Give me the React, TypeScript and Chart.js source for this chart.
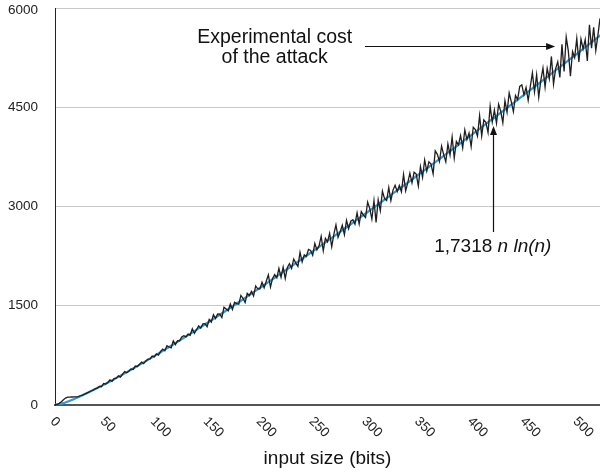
import React, { useEffect, useRef } from "react";
import { Chart, registerables } from "chart.js";

Chart.register(...registerables);

// ---- data ----
const xTickValues = [0, 50, 100, 150, 200, 250, 300, 350, 400, 450, 500];
const yTickValues = [0, 1500, 3000, 4500, 6000];
const X_MAX = 516;
const Y_MAX = 6000;

// experimental cost of the attack (black, noisy), input size in bits
const expN = [
  0, 2, 4, 6, 8, 10, 12, 14, 16, 18, 20, 22, 24, 26, 28, 30, 32, 34, 36, 38,
  40, 42, 44, 46, 48, 50, 52, 54, 56, 58, 60, 62, 64, 66, 68, 70, 72, 74, 76, 78,
  80, 82, 84, 86, 88, 90, 92, 94, 96, 98, 100, 102, 104, 106, 108, 110, 112, 114, 116, 118,
  120, 122, 124, 126, 128, 130, 132, 134, 136, 138, 140, 142, 144, 146, 148, 150, 152, 154, 156, 158,
  160, 162, 164, 166, 168, 170, 172, 174, 176, 178, 180, 182, 184, 186, 188, 190, 192, 194, 196, 198,
  200, 202, 204, 206, 208, 210, 212, 214, 216, 218, 220, 222, 224, 226, 228, 230, 232, 234, 236, 238,
  240, 242, 244, 246, 248, 250, 252, 254, 256, 258, 260, 262, 264, 266, 268, 270, 272, 274, 276, 278,
  280, 282, 284, 286, 288, 290, 292, 294, 296, 298, 300, 302, 304, 306, 308, 310, 312, 314, 316, 318,
  320, 322, 324, 326, 328, 330, 332, 334, 336, 338, 340, 342, 344, 346, 348, 350, 352, 354, 356, 358,
  360, 362, 364, 366, 368, 370, 372, 374, 376, 378, 380, 382, 384, 386, 388, 390, 392, 394, 396, 398,
  400, 402, 404, 406, 408, 410, 412, 414, 416, 418, 420, 422, 424, 426, 428, 430, 432, 434, 436, 438,
  440, 442, 444, 446, 448, 450, 452, 454, 456, 458, 460, 462, 464, 466, 468, 470, 472, 474, 476, 478,
  480, 482, 484, 486, 488, 490, 492, 494, 496, 498, 500, 502, 504, 506, 508, 510, 512, 514, 516,
];
const expCost = [
  0, 8, 25, 50, 80, 105, 118, 120, 121, 122, 124, 126, 140, 150, 165, 180, 195, 212, 226, 245,
  255,
  280, 276, 325, 317, 341, 378, 356, 400, 405, 440, 421, 466, 504, 487, 515, 546, 537, 588, 581, 615,
  648, 625, 666, 692, 696, 740, 727, 774, 753, 809, 845, 820, 895, 876, 863, 970, 913, 971, 969, 1028,
  1048, 1030, 1072, 1054, 1151, 1083, 1137, 1196, 1161, 1226, 1230, 1184, 1293, 1253, 1366, 1306, 1375, 1372, 1321, 1478,
  1451, 1424, 1526, 1443, 1552, 1533, 1523, 1656, 1613, 1547, 1688, 1654, 1715, 1649, 1799, 1756, 1754, 1856, 1773, 1871,
  1965, 1783, 1913, 1971, 1921, 2063, 1929, 2083, 1913, 2079, 2137, 2063, 2206, 2144, 2094, 2308, 2163, 2269, 2244, 2350,
  2336, 2263, 2441, 2344, 2406, 2548, 2331, 2518, 2466, 2594, 2392, 2579, 2722, 2535, 2618, 2716, 2574, 2791, 2664, 2777,
  2800, 2733, 2906, 2734, 2923, 2871, 2834, 3067, 2970, 2810, 3089, 2760, 3101, 2937, 3233, 3120, 3092, 3286, 3088, 3248,
  3322, 3227, 3318, 3223, 3484, 3236, 3361, 3504, 3358, 3517, 3490, 3310, 3605, 3442, 3703, 3536, 3674, 3641, 3494, 3841,
  3789, 3680, 3912, 3784, 3675, 3946, 3780, 4051, 3733, 3985, 3933, 4071, 3886, 4158, 4011, 4111, 3907, 4197, 4164, 4063,
  4373, 4067, 4311, 4270, 4118, 4516, 4276, 4455, 4259, 4547, 4440, 4266, 4599, 4425, 4714, 4584, 4433, 4677, 4614, 4814,
  4839, 4687, 4800, 4604, 4813, 5020, 4732, 4991, 4652, 4910, 5091, 4804, 5088, 4931, 5268, 4851, 5083, 5186, 4951, 5450,
  5041, 5560, 5351, 4970, 5343, 5252, 5538, 5186, 5530, 5381, 5522, 5199, 5746, 5394, 5709, 5358, 5586, 5843,
];

// fitted curve 1,7318 n ln(n) (blue)
const fitN = [
  0, 8, 16, 24, 32, 40, 48, 56, 64, 72, 80, 88, 96, 104, 112, 120, 128, 136, 144, 152,
  160, 168, 176, 184, 192, 200, 208, 216, 224, 232, 240, 248, 256, 264, 272, 280, 288, 296, 304, 312,
  320, 328, 336, 344, 352, 360, 368, 376, 384, 392, 400, 408, 416, 424, 432, 440, 448, 456, 464, 472,
  480, 488, 496, 504, 512, 520,
];
const fitCost = [
  0, 29, 77, 132, 192, 256, 322, 390, 461, 533, 607, 682, 759, 837, 915, 995, 1076, 1157, 1239, 1322,
  1406, 1491, 1576, 1662, 1748, 1835, 1923, 2011, 2099, 2188, 2278, 2368, 2458, 2549, 2641, 2732, 2824, 2917, 3010, 3103,
  3197, 3291, 3385, 3480, 3574, 3670, 3765, 3861, 3957, 4054, 4151, 4248, 4345, 4442, 4540, 4638, 4736, 4835, 4934, 5033,
  5132, 5231, 5331, 5431, 5532, 5632,
];

// annotation anchors (data coordinates)
const labelExp1 = { text: "Experimental cost", n: 208, v: 5471 };
const labelExp2 = { text: "of the attack", n: 208, v: 5169 };
const arrowExp = { n0: 293.5, n1: 473.5, v: 5425 };
const labelFit = { plain: "1,7318 ", italic: "n ln(n)", n: 359, v: 2312 };
const arrowFit = { n: 415, v0: 2614, v1: 4216 };
const xTitle = "input size (bits)";

const FONT = '"Liberation Sans", Arial, Helvetica, sans-serif';

function arrowHead(ctx: CanvasRenderingContext2D, x: number, y: number, dx: number, dy: number) {
  const len = 9;
  const half = 3.5;
  const px = -dy;
  const py = dx;
  ctx.beginPath();
  ctx.moveTo(x, y);
  ctx.lineTo(x - dx * len + px * half, y - dy * len + py * half);
  ctx.lineTo(x - dx * len - px * half, y - dy * len - py * half);
  ctx.closePath();
  ctx.fill();
}

const overlayPlugin = {
  id: "overlay",
  afterDraw(chart: any) {
    const { ctx, chartArea, scales } = chart;
    const xs = scales.x;
    const ys = scales.y;
    ctx.save();

    // y tick labels
    ctx.fillStyle = "#222";
    ctx.font = `13.5px ${FONT}`;
    ctx.textAlign = "right";
    ctx.textBaseline = "middle";
    yTickValues.forEach((v) => {
      const py = Math.max(ys.getPixelForValue(v), 10);
      ctx.fillText(String(v), chartArea.left - 17, py);
    });

    // x tick labels, rotated 45deg clockwise
    ctx.textAlign = "center";
    xTickValues.forEach((v) => {
      const px = xs.getPixelForValue(v);
      const s = String(v);
      const w = ctx.measureText(s).width;
      const ext = (w + 9.5) * Math.SQRT1_2;
      ctx.save();
      ctx.translate(px, chartArea.bottom + 11 + ext / 2);
      ctx.rotate(Math.PI / 4);
      ctx.fillText(s, 0, 0);
      ctx.restore();
    });

    // axis title
    ctx.font = `19px ${FONT}`;
    ctx.textBaseline = "alphabetic";
    ctx.fillStyle = "#111";
    ctx.fillText(xTitle, (chartArea.left + chartArea.right) / 2, 464);

    // annotation texts
    ctx.font = `19.5px ${FONT}`;
    ctx.fillText(labelExp1.text, xs.getPixelForValue(labelExp1.n), ys.getPixelForValue(labelExp1.v));
    ctx.fillText(labelExp2.text, xs.getPixelForValue(labelExp2.n), ys.getPixelForValue(labelExp2.v));

    ctx.textAlign = "left";
    const fx = xs.getPixelForValue(labelFit.n);
    const fy = ys.getPixelForValue(labelFit.v);
    ctx.font = `19px ${FONT}`;
    ctx.fillText(labelFit.plain, fx, fy);
    const pw = ctx.measureText(labelFit.plain).width;
    ctx.font = `italic 19px ${FONT}`;
    ctx.fillText(labelFit.italic, fx + pw, fy);

    // arrows
    ctx.strokeStyle = "#111";
    ctx.fillStyle = "#111";
    ctx.lineWidth = 1.2;
    const ax0 = xs.getPixelForValue(arrowExp.n0);
    const ax1 = xs.getPixelForValue(arrowExp.n1);
    const ay = Math.round(ys.getPixelForValue(arrowExp.v)) + 0.5;
    ctx.beginPath();
    ctx.moveTo(ax0, ay);
    ctx.lineTo(ax1 - 6, ay);
    ctx.stroke();
    arrowHead(ctx, ax1, ay, 1, 0);

    const bx = Math.round(xs.getPixelForValue(arrowFit.n)) + 0.5;
    const by0 = ys.getPixelForValue(arrowFit.v0);
    const by1 = ys.getPixelForValue(arrowFit.v1);
    ctx.beginPath();
    ctx.moveTo(bx, by0);
    ctx.lineTo(bx, by1 + 6);
    ctx.stroke();
    arrowHead(ctx, bx, by1, 0, -1);

    ctx.restore();
  },
};

export default function App() {
  const canvasRef = useRef<HTMLCanvasElement | null>(null);

  useEffect(() => {
    const canvas = canvasRef.current;
    if (!canvas) return;
    const m = Math.min(expN.length, expCost.length);
    const expData = expN.slice(0, m).map((n, i) => ({ x: n, y: expCost[i] }));
    const fitData = fitN.map((n, i) => ({ x: n, y: fitCost[i] }));

    const chart = new Chart(canvas, {
      type: "line",
      data: {
        datasets: [
          {
            label: "Experimental cost of the attack",
            data: expData,
            borderColor: "#1e1e1e",
            borderWidth: 1.3,
            pointRadius: 0,
            tension: 0,
            order: 0,
          },
          {
            label: "1,7318 n ln(n)",
            data: fitData,
            borderColor: "#3399d6",
            borderWidth: 2.2,
            pointRadius: 0,
            tension: 0.3,
            order: 1,
          },
        ],
      },
      options: {
        animation: false,
        responsive: false,
        maintainAspectRatio: false,
        devicePixelRatio: 1,
        layout: { padding: { left: 55, top: 8, right: 0, bottom: 67 } },
        plugins: {
          legend: { display: false },
          tooltip: { enabled: false },
        },
        scales: {
          x: {
            type: "linear",
            min: 0,
            max: X_MAX,
            ticks: { display: false },
            grid: { display: false, drawTicks: false },
            border: { display: true, color: "#555", width: 2 },
          },
          y: {
            type: "linear",
            min: 0,
            max: Y_MAX,
            afterBuildTicks: (s: any) => {
              s.ticks = yTickValues.map((v) => ({ value: v }));
            },
            ticks: { display: false },
            grid: { color: "#c8c8c8", lineWidth: 1, drawTicks: false },
            border: { display: true, color: "#222", width: 1 },
          },
        },
      },
      plugins: [overlayPlugin],
    });
    return () => chart.destroy();
  }, []);

  return (
    <div style={{ position: "fixed", left: 0, top: 0, width: 600, height: 472, background: "#fff" }}>
      <canvas ref={canvasRef} width={600} height={472} style={{ width: 600, height: 472, display: "block" }} />
    </div>
  );
}
